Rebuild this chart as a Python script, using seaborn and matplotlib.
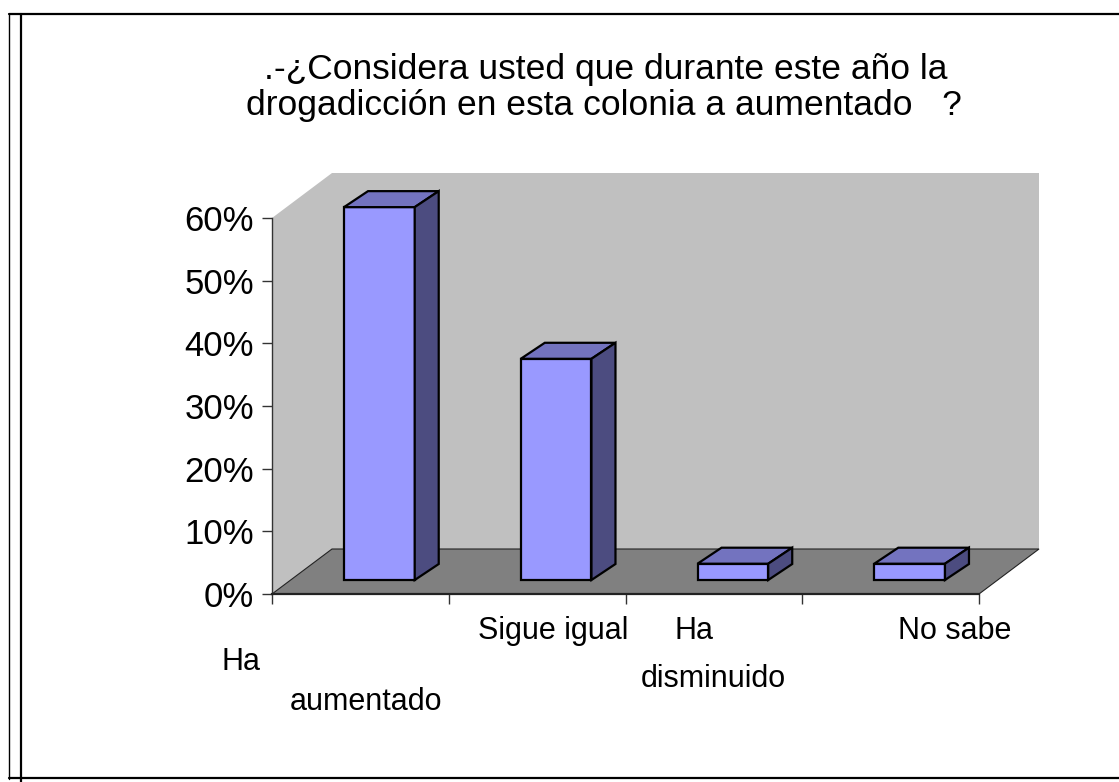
import numpy as np
import pandas as pd
import matplotlib
matplotlib.use("Agg")
import matplotlib.pyplot as plt
from matplotlib.patches import Polygon
from matplotlib.lines import Line2D
import seaborn as sns

# data
categories = ["Ha aumentado", "Sigue igual", "Ha disminuido", "No sabe"]
shares = [0.595, 0.353, 0.026, 0.026]
tick_values = [0.0, 0.1, 0.2, 0.3, 0.4, 0.5, 0.6]
tick_labels = ["0%", "10%", "20%", "30%", "40%", "50%", "60%"]
title_lines = [".-¿Considera usted que durante este año la",
               "drogadicción en esta colonia a aumentado   ?"]

W, H = 1119, 782

sns.set_theme(style="white")
plt.rcParams['font.family'] = ['Liberation Sans', 'DejaVu Sans']
plt.rcParams['text.color'] = 'black'

fig = plt.figure(figsize=(W / 100, H / 100), dpi=100)
fig.patch.set_facecolor("white")

# front plane of the 3d box (pixels)
ax_l, ax_r, ax_t, ax_b = 272, 979, 218, 594
ax = fig.add_axes([ax_l / W, 1 - ax_b / H, (ax_r - ax_l) / W, (ax_b - ax_t) / H])

df = pd.DataFrame({"categoria": categories, "porcentaje": shares})
sns.barplot(data=df, x="categoria", y="porcentaje", color="#9999FF", saturation=1,
            width=0.4, edgecolor="black", linewidth=1.6, ax=ax, zorder=5)

ax.set_xlim(-0.5, 3.5)
ax.set_ylim(0, 0.6)
ax.patch.set_visible(False)

# pixel -> data conversion for the oblique depth
sx = 4.0 / (ax_r - ax_l)
sy = 0.6 / (ax_b - ax_t)
DX, DY = 60 * sx, 45 * sy          # full depth of the floor
FX, FY = 19 * sx, 14 * sy          # bar front plane
BX, BY = 24 * sx, 16 * sy          # bar depth

def poly(pts, fc, ec="none", lw=0, z=1):
    ax.add_patch(Polygon(pts, closed=True, facecolor=fc, edgecolor=ec,
                         linewidth=lw, zorder=z, clip_on=False, joinstyle="miter"))

x0, x1 = -0.5, 3.5
# back wall, left wall, floor
poly([(x0 + DX, DY), (x1 + DX, DY), (x1 + DX, 0.6 + DY), (x0 + DX, 0.6 + DY)], "#C0C0C0", z=0.5)
poly([(x0, 0), (x0, 0.6), (x0 + DX, 0.6 + DY), (x0 + DX, DY)], "#C0C0C0", z=0.6)
poly([(x0, 0), (x1, 0), (x1 + DX, DY), (x0 + DX, DY)], "#808080", ec="#222222", lw=0.8, z=0.7)

# shift bars into the box and add top / side faces
for p in list(ax.patches):
    if not hasattr(p, "get_width"):
        continue
    p.set_x(p.get_x() + FX)
    p.set_y(p.get_y() + FY)
    p.set_clip_on(False)
    p.set_joinstyle("miter")
    bx0 = p.get_x()
    bx1 = bx0 + p.get_width()
    by0 = p.get_y()
    by1 = by0 + p.get_height()
    poly([(bx0, by1), (bx1, by1), (bx1 + BX, by1 + BY), (bx0 + BX, by1 + BY)],
         "#7373BF", ec="black", lw=1.6, z=5)
    poly([(bx1, by0), (bx1 + BX, by0 + BY), (bx1 + BX, by1 + BY), (bx1, by1)],
         "#4C4C80", ec="black", lw=1.6, z=5)

# axes styling
for s in ["top", "right"]:
    ax.spines[s].set_visible(False)
ax.spines["left"].set_color("#333333")
ax.spines["left"].set_linewidth(1.0)
ax.spines["bottom"].set_color("#222222")
ax.spines["bottom"].set_linewidth(1.6)
ax.spines["left"].set_zorder(3)
ax.spines["bottom"].set_zorder(3)

ax.set_yticks(tick_values)
ax.set_yticklabels(tick_labels)
ax.set_xticks([-0.5, 0.5, 1.5, 2.5, 3.5])
ax.set_xticklabels([])
ax.set_xlabel("")
ax.set_ylabel("")
ax.tick_params(axis="y", length=7, width=1, color="#333333", labelsize=25, pad=6,
               labelcolor="black", left=True)
ax.tick_params(axis="x", length=7, width=1, color="#333333", bottom=True)
ax.grid(False)

# category labels, placed the way the original wraps them
label_pos = [
    ("Ha", 241, 670), ("aumentado", 366, 710),
    ("Sigue igual", 553, 639),
    ("Ha", 694, 639), ("disminuido", 713, 687),
    ("No sabe", 955, 639),
]
for txt, px, py in label_pos:
    fig.text(px / W, 1 - py / H, txt, ha="center", va="baseline", fontsize=22, color="black")

# title
fig.text(606 / W, 1 - 79 / H, title_lines[0], ha="center", va="baseline", fontsize=25.5, color="black")
fig.text(604 / W, 1 - 115 / H, title_lines[1], ha="center", va="baseline", fontsize=25.5, color="black")

# outer frame lines
def fline(xs, ys, lw):
    fig.add_artist(Line2D([x / W for x in xs], [1 - y / H for y in ys],
                          color="black", linewidth=lw))

fline([9, W], [14, 14], 1.6)
fline([9, 9], [14, 779], 1.0)
fline([21, 21], [14, H], 1.6)
fline([9, W], [778, 778], 1.6)

fig.savefig("out.png", dpi=100, facecolor="white")
